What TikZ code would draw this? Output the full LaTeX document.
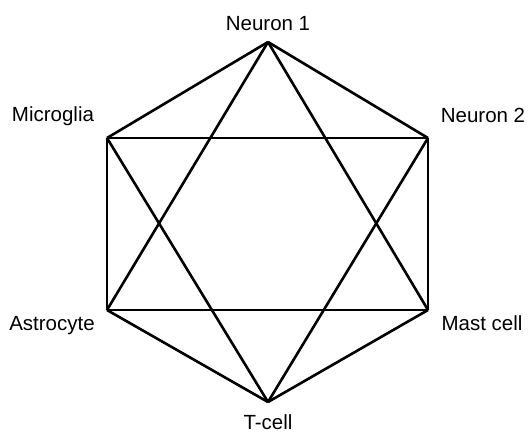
\documentclass[tikz,border=0pt]{standalone}
\usepackage{fontspec}
\setmainfont{Liberation Sans}
\usepackage{tikz}
\usetikzlibrary{positioning}

\begin{document}
\begin{tikzpicture}[x=1pt,y=-1pt,line width=2.6pt]
  \tikzstyle{lbl}=[inner sep=0pt,font=\fontsize{20.5}{24}\selectfont]
  \useasboundingbox (0,0) rectangle (529,433);

  \coordinate (neu1) at (268,42);
  \coordinate (neu2) at (428,138);
  \coordinate (mast) at (428,310);
  \coordinate (tcell) at (268,402);
  \coordinate (astro) at (107,310);
  \coordinate (micro) at (107,138);

  \node[lbl] (lneu1) at ([shift={(0,-18)}]neu1) {Neuron 1};
  \node[lbl] (lneu2) at ([shift={(55,-23)}]neu2) {Neuron 2};
  \node[lbl] (lmast) at ([shift={(54,13)}]mast) {Mast cell};
  \node[lbl] (ltcell) at ([shift={(0,20)}]tcell) {T-cell};
  \node[lbl] (lastro) at ([shift={(-55,16)}]astro) {Astrocyte};
  \node[lbl] (lmicro) at ([shift={(-54,-22)}]micro) {Microglia};

  \path[draw]
    (neu1) edge (neu2)
    (neu2) edge (mast)
    (mast) edge (tcell)
    (tcell) edge (astro)
    (astro) edge (micro)
    (micro) edge (neu1)
    (neu1) edge (astro)
    (astro) edge (mast)
    (mast) edge (neu1)
    (tcell) edge (micro)
    (micro) edge (neu2)
    (neu2) edge (tcell);
\end{tikzpicture}
\end{document}
